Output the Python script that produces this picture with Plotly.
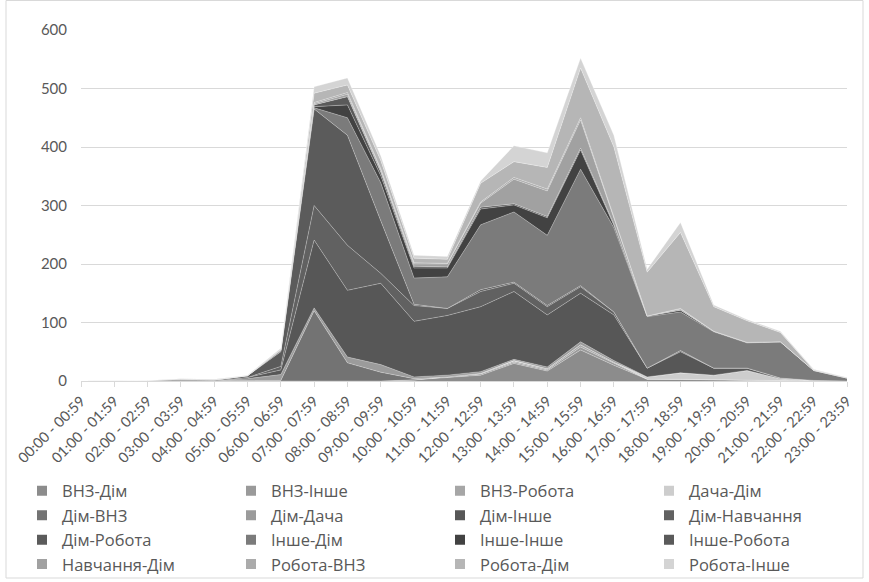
import plotly.graph_objects as go

# Hourly intervals
hours = [
    "00:00 - 00:59", "01:00 - 01:59", "02:00 - 02:59", "03:00 - 03:59",
    "04:00 - 04:59", "05:00 - 05:59", "06:00 - 06:59", "07:00 - 07:59",
    "08:00 - 08:59", "09:00 - 09:59", "10:00 - 10:59", "11:00 - 11:59",
    "12:00 - 12:59", "13:00 - 13:59", "14:00 - 14:59", "15:00 - 15:59",
    "16:00 - 16:59", "17:00 - 17:59", "18:00 - 18:59", "19:00 - 19:59",
    "20:00 - 20:59", "21:00 - 21:59", "22:00 - 22:59", "23:00 - 23:59",
]

# Trips per hour for each origin-destination pair (stacked bottom to top)
vnz_dim        = [0,0,0,0,0,0,0,0,0,0,2,6,10,30,17,53,27,3,3,2,1,0,0,0]
vnz_inshe      = [0,0,0,0,0,0,0,0,0,0,0,1,2,2,2,5,3,0,0,0,0,0,0,0]
vnz_robota     = [0,0,0,0,0,0,0,0,0,0,0,0,1,2,2,4,2,0,0,0,0,0,0,0]
dacha_dim      = [0,0,0,0,0,0,0,0,0,0,0,0,0,1,0,0,0,4,11,8,17,4,1,0]
dim_vnz        = [0,0,0,0,0,0,1,120,31,15,2,0,0,0,0,0,0,0,0,0,0,0,0,0]
dim_dacha      = [0,0,0,0,0,4,10,5,10,13,3,3,3,2,3,5,3,0,0,0,0,0,0,0]
dim_inshe      = [0,0,0,1,0,2,8,116,114,139,95,102,111,116,89,83,78,15,36,12,4,1,0,0]
dim_navchannia = [0,0,0,0,0,0,6,59,77,17,27,12,26,14,14,11,5,0,2,0,0,0,0,0]
dim_robota     = [0,0,0,0,1,3,25,165,188,90,2,0,3,2,2,2,0,0,0,0,0,0,0,0]
inshe_dim      = [0,0,1,2,1,0,1,2,30,65,45,54,111,120,120,199,144,88,66,62,43,62,17,5]
inshe_inshe    = [0,0,0,0,0,0,1,2,22,12,17,15,27,12,30,33,4,1,3,1,1,0,0,0]
inshe_robota   = [0,0,0,0,0,0,1,3,14,6,3,2,3,2,2,3,2,0,0,0,0,0,0,0]
navchannia_dim = [0,0,0,0,0,0,0,2,4,4,4,5,7,42,44,48,10,0,2,0,0,0,0,0]
robota_vnz     = [0,0,0,0,0,0,0,2,3,2,2,1,2,3,3,4,2,0,1,0,0,0,0,0]
robota_dim     = [0,0,0,1,1,0,1,16,13,14,8,7,32,27,37,85,120,75,130,42,37,16,1,1]
robota_inshe   = [0,0,0,0,0,1,2,11,12,8,5,5,4,27,25,17,20,5,17,3,2,2,1,0]

series_names = [
    "ВНЗ-Дім", "ВНЗ-Інше", "ВНЗ-Робота", "Дача-Дім",
    "Дім-ВНЗ", "Дім-Дача", "Дім-Інше", "Дім-Навчання",
    "Дім-Робота", "Інше-Дім", "Інше-Інше", "Інше-Робота",
    "Навчання-Дім", "Робота-ВНЗ", "Робота-Дім", "Робота-Інше",
]
series_values = [
    vnz_dim, vnz_inshe, vnz_robota, dacha_dim,
    dim_vnz, dim_dacha, dim_inshe, dim_navchannia,
    dim_robota, inshe_dim, inshe_inshe, inshe_robota,
    navchannia_dim, robota_vnz, robota_dim, robota_inshe,
]
grays = [
    "#8c8c8c", "#9a9a9a", "#a6a6a6", "#cdcdcd",
    "#737373", "#9b9b9b", "#575757", "#616161",
    "#5b5b5b", "#7b7b7b", "#424242", "#5a5a5a",
    "#a1a1a1", "#ababab", "#b6b6b6", "#d4d4d4",
]

FONT = "Lato, 'Noto Sans', sans-serif"
LEGEND_FONT = "'Open Sans', Lato, sans-serif"
TEXT = "#595959"
GRID = "#d9d9d9"

W, H = 869, 582
L, R, T, B = 81, 22, 30, 201
pw, ph = W - L - R, H - T - B

def px_x(px):
    return (px - L) / pw

def px_y(py):
    return (H - B - py) / ph

fig = go.Figure()
for name, vals, col in zip(series_names, series_values, grays):
    fig.add_trace(go.Scatter(
        x=hours, y=vals, name=name, mode="lines",
        stackgroup="one", fillcolor=col,
        line=dict(color="rgba(255,255,255,0.35)", width=0.8),
        showlegend=False,
    ))
# square swatches for the legend
for name, col in zip(series_names, grays):
    fig.add_trace(go.Scatter(
        x=[None], y=[None], name=name, mode="markers",
        marker=dict(symbol="square", size=10, color=col),
        showlegend=True,
    ))

fig.update_layout(
    width=W, height=H,
    margin=dict(l=L, r=R, t=T, b=B, autoexpand=False),
    paper_bgcolor="white", plot_bgcolor="white",
    font=dict(family=FONT, color=TEXT, size=15),
    xaxis=dict(
        type="category", range=[0, 23],
        showgrid=False, showline=True, linecolor=GRID, linewidth=1,
        ticks="outside", ticklen=5, tickcolor=GRID,
        tickangle=-45, tickfont=dict(size=14.5, color=TEXT),
        fixedrange=True,
    ),
    yaxis=dict(
        range=[0, 600], dtick=100, showgrid=True, gridcolor=GRID, gridwidth=1,
        zeroline=False, showline=False, ticks="",
        ticklabelstandoff=13, tickfont=dict(size=15, color=TEXT),
        fixedrange=True,
    ),
    legend=dict(
        orientation="h", xref="paper", yref="paper",
        x=px_x(22), y=px_y(473.5), xanchor="left", yanchor="top",
        entrywidth=164, entrywidthmode="pixels",
        font=dict(size=16.5, color=TEXT, family=LEGEND_FONT),
        traceorder="normal", itemclick=False, itemdoubleclick=False,
        bgcolor="rgba(0,0,0,0)",
    ),
    shapes=[dict(
        type="rect", xref="paper", yref="paper",
        x0=px_x(6), x1=px_x(863), y0=px_y(578), y1=px_y(0.5),
        line=dict(color=GRID, width=1), fillcolor="rgba(0,0,0,0)",
        layer="below",
    )],
    showlegend=True,
)

fig.write_html("out.html")
